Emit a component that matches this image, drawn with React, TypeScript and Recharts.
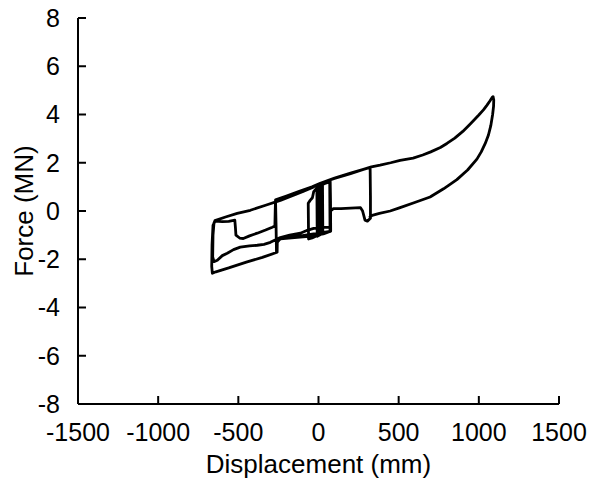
import { LineChart, Line, XAxis, YAxis } from "recharts";

// displacement (mm), force (MN) pairs, in test order
const smallCycles: [number, number][] = [
  [0, 0], [2, 0.95], [25, 1.08], [27, -0.9], [0, -1.0], [-3, 0.95], [15, 1.05],
  [18, -0.95], [-8, -1.05], [-10, 0.92], [10, 1.02], [12, -0.95],
];

const cycle60: [number, number][] = [
  [12, -0.95], [-40, -1.12], [-62, -1.16], [-63, -0.4], [-64, 0.32],
  [-52, 0.44], [-38, 0.55], [-30, 0.8], [0, 1.03], [40, 1.14], [73, 1.22],
  [75, 0.4], [76, -0.84],
];

const cycle270: [number, number][] = [
  [76, -0.84], [30, -0.95], [-60, -1.05], [-150, -1.1], [-238, -1.15],
  [-258, -1.3], [-262, -1.71], [-265, -0.5], [-268, 0.46], [-200, 0.62],
  [-120, 0.82], [-40, 1.0], [20, 1.13], [70, 1.2], [72, -0.85],
];

const cycle660a: [number, number][] = [
  [72, -0.85], [0, -0.92], [-80, -1.0], [-160, -1.08], [-240, -1.15],
  [-257, -1.3], [-258, -1.71], [-350, -1.92], [-450, -2.12], [-560, -2.36],
  [-640, -2.52], [-662, -2.58], [-666, -2.3], [-664, -1.4], [-658, -0.6],
  [-645, -0.42], [-600, -0.44], [-560, -0.43], [-522, -0.38], [-518, -0.7],
  [-515, -1.0], [-492, -1.12], [-469, -1.14], [-430, -1.03], [-382, -0.92],
  [-330, -0.79], [-288, -0.67], [-272, -0.62], [-270, 0.0], [-268, 0.46],
];

const cycle660b: [number, number][] = [
  [-268, 0.46], [-200, 0.62], [-120, 0.82], [-40, 1.0], [11, 1.15], [100, 1.35],
  [200, 1.55], [280, 1.72], [322, 1.81], [324, 0.6], [324, -0.3], [305, -0.42],
  [290, -0.38], [275, 0.0], [262, 0.14], [200, 0.12], [140, 0.1], [93, 0.1],
  [75, 0.0], [73, -0.67], [30, -0.68], [-30, -0.72], [-70, -0.8], [-113, -0.92],
  [-180, -1.0], [-238, -1.1], [-300, -1.3], [-340, -1.38], [-382, -1.42],
  [-430, -1.45], [-488, -1.5], [-530, -1.6], [-569, -1.75], [-600, -1.85],
  [-631, -2.04], [-652, -2.1], [-660, -1.9], [-658, -1.0], [-652, -0.5],
  [-646, -0.4],
];

const finalPush: [number, number][] = [
  [-646, -0.4], [-580, -0.25], [-507, -0.1], [-425, 0.03], [-330, 0.24],
  [-238, 0.44], [-175, 0.6], [-100, 0.8], [-30, 1.0], [11, 1.15], [100, 1.36],
  [200, 1.57], [280, 1.73], [330, 1.83], [384, 1.9], [450, 2.0], [509, 2.1],
  [590, 2.19], [650, 2.32], [700, 2.45], [760, 2.63], [801, 2.8], [850, 3.02],
  [900, 3.3], [945, 3.6], [1000, 3.98], [1030, 4.2], [1050, 4.38], [1070, 4.57],
  [1082, 4.7], [1089, 4.74], [1093, 4.6], [1092, 4.35], [1086, 4.0], [1075, 3.55],
  [1060, 3.15], [1040, 2.8], [1015, 2.45], [988, 2.15], [930, 1.7], [863, 1.3],
  [780, 0.92], [696, 0.58], [600, 0.35], [509, 0.14], [447, 0.0], [380, -0.1],
  [335, -0.18], [315, -0.28],
];

const xTicks = [-1500, -1000, -500, 0, 500, 1000, 1500];
const yTicks = [-8, -6, -4, -2, 0, 2, 4, 6, 8];

const data = [
  ...smallCycles,
  ...cycle60,
  ...cycle270,
  ...cycle660a,
  ...cycle660b,
  ...finalPush,
].map(([d, f]) => ({ d, f }));

const font = "'Liberation Sans', Arial, Helvetica, sans-serif";
const tickStyle = { fill: "#000", fontSize: 25, fontFamily: font };
const frame = { stroke: "#000", strokeWidth: 2 };

export default function App() {
  return (
    <div style={{ position: "absolute", left: 0, top: 0, background: "#fff" }}>
      <LineChart
        width={592}
        height={485}
        data={data}
        margin={{ top: 18, right: 33, bottom: 0, left: 0 }}
      >
        <XAxis
          xAxisId="b"
          type="number"
          dataKey="d"
          domain={[-1500, 1500]}
          ticks={xTicks}
          height={81}
          tickSize={-8}
          tickMargin={27}
          tick={tickStyle}
          axisLine={frame}
          tickLine={frame}
          label={{
            value: "Displacement (mm)",
            position: "insideBottom",
            offset: 12,
            fill: "#000",
            fontSize: 26,
            fontFamily: font,
          }}
        />
        <XAxis
          xAxisId="t"
          orientation="top"
          type="number"
          dataKey="d"
          domain={[-1500, 1500]}
          ticks={xTicks}
          height={0}
          tickSize={-8}
          tick={false}
          axisLine={frame}
          tickLine={frame}
        />
        <YAxis
          yAxisId="l"
          type="number"
          domain={[-8, 8]}
          ticks={yTicks}
          width={78}
          tickSize={-8}
          tickMargin={26}
          tick={tickStyle}
          axisLine={frame}
          tickLine={frame}
          label={{
            value: "Force (MN)",
            angle: -90,
            position: "insideLeft",
            offset: 24,
            fill: "#000",
            fontSize: 26,
            fontFamily: font,
            style: { textAnchor: "middle" },
          }}
        />
        <YAxis
          yAxisId="r"
          orientation="right"
          type="number"
          domain={[-8, 8]}
          ticks={yTicks}
          width={0}
          tickSize={-8}
          tick={false}
          axisLine={frame}
          tickLine={frame}
        />
        <Line
          xAxisId="b"
          yAxisId="l"
          type="linear"
          dataKey="f"
          stroke="#000"
          strokeWidth={2.8}
          strokeLinejoin="round"
          dot={false}
          isAnimationActive={false}
        />
      </LineChart>
    </div>
  );
}
